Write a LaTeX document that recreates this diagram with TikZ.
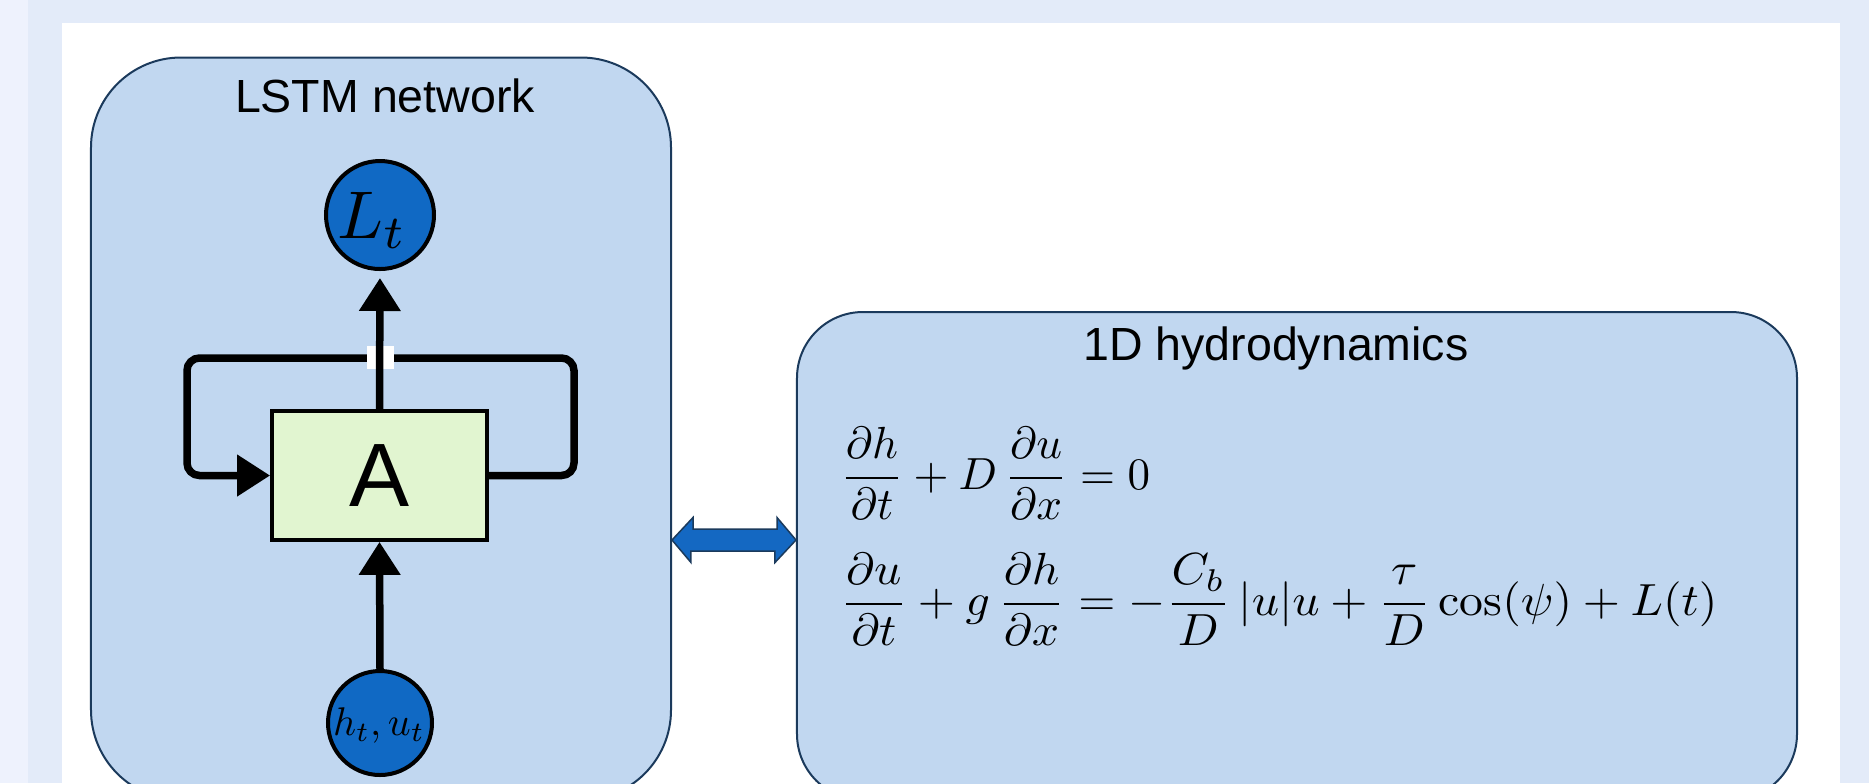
\documentclass[tikz,border=0pt]{standalone}
\usepackage{fontspec}
\newfontfamily\sansf{Liberation Sans}
\usetikzlibrary{arrows.meta,calc}
\definecolor{bgstrip}{HTML}{EEF2FD}
\definecolor{bgband}{HTML}{E3EBF9}
\definecolor{boxfill}{HTML}{C1D7F0}
\definecolor{boxline}{HTML}{1B3A5C}
\definecolor{circfill}{HTML}{1069C4}
\definecolor{afill}{HTML}{E1F5D0}
\definecolor{darrowfill}{HTML}{1468C2}
\tikzset{
  panel/.style={draw=boxline, fill=boxfill, line width=0.8pt, inner sep=0pt},
  titletext/.style={anchor=base, font=\sansf\fontsize{18.6}{22}\selectfont, text=black},
  unit/.style={circle, draw=black, line width=1.6pt, fill=circfill, inner sep=0pt, text=black, font=\fontsize{10}{12}\selectfont},
  unitlabel/.style={inner sep=0pt, text=black, font=\fontsize{10}{12}\selectfont},
  cellbox/.style={draw=black, line width=1.5pt, fill=afill, minimum width=86pt, minimum height=51.6pt, inner sep=0pt, font=\sansf\fontsize{36}{40}\selectfont},
  flow/.style={line width=3pt, draw=black, -{Triangle[length=13.2pt,width=16pt]}},
  eqtext/.style={anchor=base west, inner sep=0pt, font=\fontsize{10}{12}\selectfont},
}
\begin{document}
\begin{tikzpicture}[x=0.4pt,y=-0.4pt]
\useasboundingbox (0,0) rectangle (1869,783);
\clip (0,0) rectangle (1869,783);
% background
\fill[bgband] (0,0) rectangle (1869,783);
\fill[bgstrip] (0,0) rectangle (28,783);
\fill[white] (62,23) rectangle (1840,783);

% panels
\node[panel, minimum width=232pt, minimum height=297pt, rounded corners=36pt] (lstm) at (381,428.75) {};
\node[panel, minimum width=400pt, minimum height=195.2pt, rounded corners=26.4pt] (hydro) at (1297,556) {};

\node[titletext] (lstmtitle) at (385,112.5) {LSTM network};
\node[titletext] (hydrotitle) at (1276,360) {1D hydrodynamics};

% LSTM cell
\node[cellbox] (A) at (379.5,475.5) {A};
\node[unit, minimum size=43.2pt] (Lt) at (380,215) {};
\node[unitlabel] (Ltlabel) at ($(Lt)+(-8,5)$) {\scalebox{2.7}{$L_t$}};
\node[unit, minimum size=41.6pt] (hu) at (380,723) {};
\node[unitlabel] (hulabel) at ($(hu)+(-1,2)$) {\scalebox{1.6}{$h_t,u_t$}};

\coordinate (loopR) at (574,358);
\coordinate (loopL) at (187,358);
\draw[flow, rounded corners=5pt] (A.east) -| (loopR) -- (loopL) |- (A.west);
% bridge gap
\fill[white] (367,346) rectangle (394,369);
\draw[flow, shorten >=2.8pt] (A.north) -- (Lt.south);
\draw[flow] (hu.north) -- (A.south);

% double arrow between panels
\coordinate (yarr) at (0,540);
\coordinate (dl) at (lstm.east |- yarr);
\coordinate (dr) at (hydro.west |- yarr);
\draw[fill=darrowfill, draw=boxline, line width=0.6pt, line join=miter]
  (dl) -- ++(21,-22.5) -- ++(0,11.5) -- ++(84,0) -- ++(0,-11.5) -- (dr)
  -- ++(-21,22.5) -- ++(0,-11.5) -- ++(-84,0) -- ++(0,11.5) -- cycle;

% equations
\node[eqtext] (eq1) at (840,489) {\scalebox{1.8}{$\displaystyle \frac{\partial h}{\partial t} + D\,\frac{\partial u}{\partial x} = 0$}};
\node[eqtext] (eq2) at (840,615) {\scalebox{1.91}[1.8]{$\displaystyle \frac{\partial u}{\partial t} + g\,\frac{\partial h}{\partial x} = -\frac{C_b}{D}\,|u|u + \frac{\tau}{D}\cos(\psi) + L(t)$}};
\end{tikzpicture}
\end{document}
